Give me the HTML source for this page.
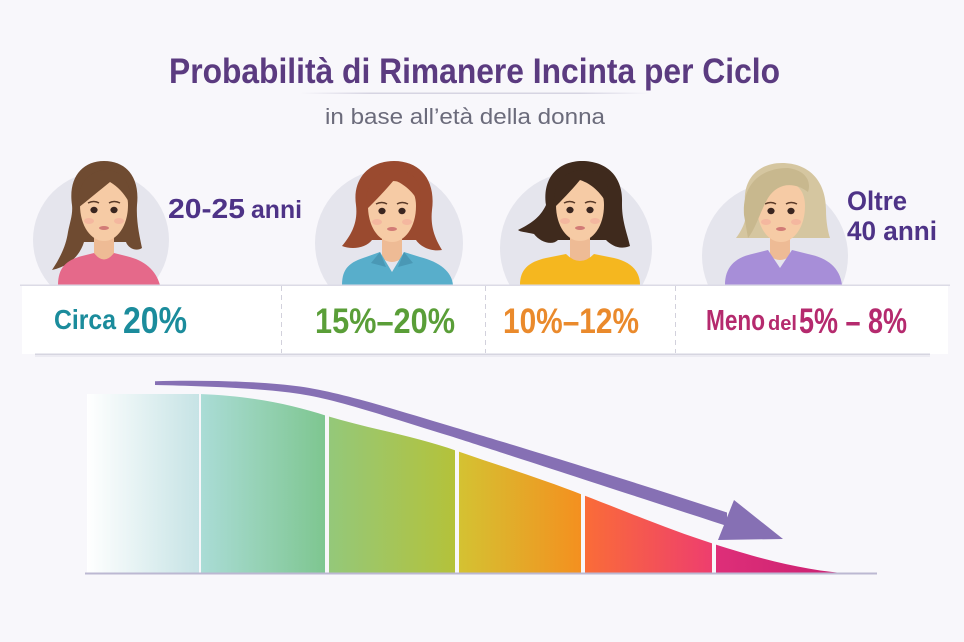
<!DOCTYPE html>
<html>
<head>
<meta charset="utf-8">
<style>
html,body{margin:0;padding:0;background:#f8f7fb;}
svg{display:block;}
text{font-family:"Liberation Sans",sans-serif;}
</style>
</head>
<body>
<svg width="964" height="642" viewBox="0 0 964 642" xmlns="http://www.w3.org/2000/svg">
<defs>
  <linearGradient id="ul" x1="0" x2="1" y1="0" y2="0">
    <stop offset="0" stop-color="#d6d4e2" stop-opacity="0"/>
    <stop offset="0.2" stop-color="#d6d4e2"/>
    <stop offset="0.8" stop-color="#d6d4e2"/>
    <stop offset="1" stop-color="#d6d4e2" stop-opacity="0"/>
  </linearGradient>
  <linearGradient id="g0" x1="0" x2="1"><stop offset="0" stop-color="#ffffff"/><stop offset="1" stop-color="#c6e3e5"/></linearGradient>
  <linearGradient id="g1" x1="0" x2="1"><stop offset="0" stop-color="#aadcd6"/><stop offset="1" stop-color="#7ec690"/></linearGradient>
  <linearGradient id="g2" x1="0" x2="1"><stop offset="0" stop-color="#94c87a"/><stop offset="1" stop-color="#b4c23a"/></linearGradient>
  <linearGradient id="g3" x1="0" x2="1"><stop offset="0" stop-color="#d4c232"/><stop offset="1" stop-color="#f4901f"/></linearGradient>
  <linearGradient id="g4" x1="0" x2="1"><stop offset="0" stop-color="#fa6c38"/><stop offset="1" stop-color="#ee3e6e"/></linearGradient>
  <linearGradient id="g5" x1="0" x2="1"><stop offset="0" stop-color="#de2f78"/><stop offset="1" stop-color="#c81e72"/></linearGradient>
  <clipPath id="area">
    <path d="M87,574 L87,394 L200,394 C250,396 290,404 327,416 C370,429 415,436 457,451 C500,466 540,478 583,495 C630,513 670,530 714,544 C770,562 810,571 854,574 Z"/>
  </clipPath>
  <g id="face">
    <path d="M-24,-7 C-24,-24 -14,-32 0,-32 C14,-32 24,-24 24,-7 C24,14 13,29 0,29 C-13,29 -24,14 -24,-7 Z" fill="#f6cba5"/>
    <ellipse cx="-15" cy="9" rx="5" ry="3" fill="#f2a49a" opacity="0.5"/>
    <ellipse cx="15" cy="9" rx="5" ry="3" fill="#f2a49a" opacity="0.5"/>
    <ellipse cx="-10" cy="-2" rx="3.6" ry="3.2" fill="#3a2620"/>
    <ellipse cx="10" cy="-2" rx="3.6" ry="3.2" fill="#3a2620"/>
    <path d="M-16,-9 Q-10,-12 -5,-9 M5,-9 Q10,-12 16,-9" stroke="#5a3a28" stroke-width="1.5" fill="none"/>
    <ellipse cx="0" cy="16" rx="5" ry="2" fill="#d27b76"/>
  </g>
</defs>

<rect width="964" height="642" fill="#f8f7fb"/>

<!-- Title -->
<text x="169" y="83" font-size="35" font-weight="bold" fill="#5b3b80" textLength="611" lengthAdjust="spacingAndGlyphs">Probabilità di Rimanere Incinta per Ciclo</text>
<rect x="300" y="92.5" width="350" height="1.5" fill="url(#ul)"/>
<text x="325" y="124" font-size="22" fill="#6b6b7b" textLength="280" lengthAdjust="spacingAndGlyphs">in base all’età della donna</text>

<!-- portrait circles -->
<circle cx="101" cy="240" r="68" fill="#e5e5ed"/>
<circle cx="389" cy="243" r="74" fill="#e5e5ed"/>
<circle cx="576" cy="248" r="76" fill="#e5e5ed"/>
<circle cx="775" cy="256" r="73" fill="#e5e5ed"/>

<!-- P1 -->
<path d="M72,205 C68,178 82,161 104,161 C127,161 140,178 137,205 C136,222 140,238 142,248 C136,252 128,248 126,242 L84,242 C80,255 70,266 52,270 C60,258 66,246 68,232 C70,222 73,214 72,205 Z" fill="#6f4b31"/>
<path d="M94,232 L94,256 Q104,264 114,256 L114,232 Z" fill="#eebb95"/>
<path d="M58,285 C58,268 66,260 82,256 L94,253 Q104,266 114,253 L126,256 C144,260 156,270 160,285 Z" fill="#e5698a"/>
<use href="#face" x="104" y="212"/>
<path d="M78,208 C76,184 90,170 106,170 C120,170 132,180 131,206 C126,196 120,188 110,182 C100,190 88,200 78,208 Z" fill="#6f4b31"/>

<!-- P2 -->
<path d="M356,205 C352,178 370,161 394,161 C420,161 436,180 432,210 C430,228 436,240 442,250 C430,252 420,246 416,240 L372,240 C366,248 352,250 342,246 C352,234 358,222 356,205 Z" fill="#9a4a2f"/>
<path d="M382,233 L382,258 Q392,266 402,258 L402,233 Z" fill="#eebb95"/>
<path d="M342,285 C342,268 350,262 366,257 L380,252 L392,272 L404,252 L420,257 C440,262 452,272 453,285 Z" fill="#58aecb"/>
<path d="M380,252 L371,263 L386,267 Z M404,252 L413,263 L398,267 Z" fill="#4a98b5"/>
<use href="#face" x="392" y="213"/>
<path d="M366,210 C364,182 378,170 396,170 C412,170 424,182 420,205 C414,192 404,184 394,180 C384,192 374,202 366,210 Z" fill="#9a4a2f"/>

<!-- P3 -->
<path d="M546,205 C542,176 560,161 582,161 C606,161 624,176 622,205 C622,222 628,236 630,246 C620,250 612,246 606,240 L558,240 C552,246 540,242 534,234 C526,232 520,232 518,230 C530,224 540,218 546,205 Z" fill="#3f2a1d"/>
<path d="M570,232 L570,258 Q580,266 590,258 L590,232 Z" fill="#eebb95"/>
<path d="M520,285 C520,270 528,262 546,258 L566,254 Q580,268 594,254 L614,258 C632,262 640,272 640,285 Z" fill="#f5b71f"/>
<use href="#face" x="580" y="212"/>
<path d="M554,208 C552,182 566,170 584,170 C600,170 612,182 608,205 C600,192 592,184 580,180 C570,192 562,200 554,208 Z" fill="#3f2a1d"/>

<!-- P4 -->
<path d="M746,210 C740,180 758,163 782,163 C808,163 826,180 826,210 C826,222 828,232 830,238 L736,238 C742,230 747,220 746,210 Z" fill="#d5c6a0"/>
<path d="M770,232 L770,256 Q780,264 790,256 L790,232 Z" fill="#eebb95"/>
<path d="M725,285 C725,268 734,258 752,254 L768,250 L780,268 L792,250 L808,254 C828,258 840,268 842,285 Z" fill="#a78ed8"/>
<use href="#face" x="781" y="213"/>
<path d="M744,215 C742,185 760,168 788,168 C804,170 812,180 808,192 C795,182 778,182 768,198 C760,212 756,228 748,238 Z" fill="#c8b88e"/>

<!-- age labels -->
<text x="168" y="218" font-size="28" font-weight="bold" fill="#4e3387" textLength="77" lengthAdjust="spacingAndGlyphs">20-25</text>
<text x="251" y="218" font-size="25" font-weight="bold" fill="#4e3387" textLength="51" lengthAdjust="spacingAndGlyphs">anni</text>
<text x="847" y="210" font-size="27" font-weight="bold" fill="#4e3387" textLength="60" lengthAdjust="spacingAndGlyphs">Oltre</text>
<text x="847" y="240" font-size="27" font-weight="bold" fill="#4e3387" textLength="90" lengthAdjust="spacingAndGlyphs">40 anni</text>

<!-- panel -->
<rect x="22" y="285" width="926" height="69" fill="#ffffff"/>
<rect x="20" y="284.5" width="930" height="1.5" fill="#dcdbe6"/>
<rect x="35" y="353.5" width="895" height="1.5" fill="#d6d5e0"/>
<rect x="35" y="355" width="895" height="2" fill="#ecebf2"/>
<g stroke="#d2d1dc" stroke-width="1" stroke-dasharray="5 4">
  <line x1="281.5" y1="286" x2="281.5" y2="353"/>
  <line x1="485.5" y1="286" x2="485.5" y2="353"/>
  <line x1="675.5" y1="286" x2="675.5" y2="353"/>
</g>

<!-- percentages -->
<text x="54" y="329" font-size="28" font-weight="bold" fill="#1b8c9c" textLength="62" lengthAdjust="spacingAndGlyphs">Circa</text>
<text x="123" y="333" font-size="37" font-weight="bold" fill="#1b8c9c" textLength="64" lengthAdjust="spacingAndGlyphs">20%</text>
<text x="315" y="333" font-size="35" font-weight="bold" fill="#5a9e38" textLength="140" lengthAdjust="spacingAndGlyphs">15%–20%</text>
<text x="503" y="333" font-size="35" font-weight="bold" fill="#ea8a2c" textLength="136" lengthAdjust="spacingAndGlyphs">10%–12%</text>
<text x="706" y="330" font-size="29" font-weight="bold" fill="#b52a6e" textLength="59" lengthAdjust="spacingAndGlyphs">Meno</text>
<text x="768" y="330" font-size="20" font-weight="bold" fill="#b52a6e" textLength="29" lengthAdjust="spacingAndGlyphs">del</text>
<text x="799" y="333" font-size="35" font-weight="bold" fill="#b52a6e" textLength="108" lengthAdjust="spacingAndGlyphs">5% – 8%</text>

<!-- chart -->
<g clip-path="url(#area)">
  <rect x="87" y="380" width="112" height="194" fill="url(#g0)"/>
  <rect x="201" y="380" width="124" height="194" fill="url(#g1)"/>
  <rect x="329" y="380" width="126" height="194" fill="url(#g2)"/>
  <rect x="459" y="380" width="122" height="194" fill="url(#g3)"/>
  <rect x="585" y="380" width="127" height="194" fill="url(#g4)"/>
  <rect x="716" y="380" width="140" height="194" fill="url(#g5)"/>
</g>
<rect x="85" y="572.5" width="792" height="2" fill="#bcb8d2"/>

<!-- arrow -->
<path d="M155,381.2 C200,380 260,381 300,386.5 C340,392 400,411 450,426 C500,441 610,474 727,512.5 L727,526 C610,488 500,452 450,436 C400,421 340,400 300,394 C260,388 200,386 155,385 Z" fill="#8670b4"/>
<path d="M734,500 L783,539 L718,540 Z" fill="#8670b4"/>
</svg>
</body>
</html>
